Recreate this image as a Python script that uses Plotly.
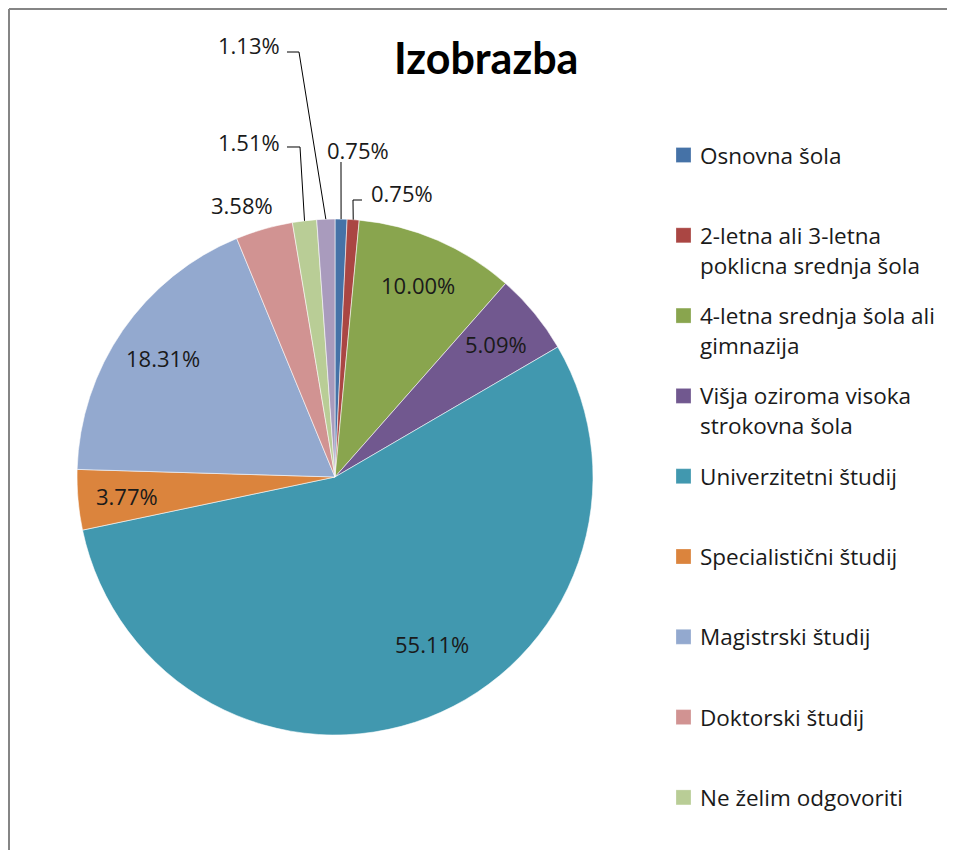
import math
import textwrap
import plotly.graph_objects as go

# ---------------- data ----------------
categories = [
    "Osnovna šola",
    "2-letna ali 3-letna poklicna srednja šola",
    "4-letna srednja šola ali gimnazija",
    "Višja oziroma visoka strokovna šola",
    "Univerzitetni študij",
    "Specialistični študij",
    "Magistrski študij",
    "Doktorski študij",
    "Ne želim odgovoriti",
    "Drugo",
]
percentages = [0.75, 0.75, 10.00, 5.09, 55.11, 3.77, 18.31, 3.58, 1.51, 1.13]
title_text = "Izobrazba"

# ---------------- style ----------------
colors = ["#4572A7", "#AA4643", "#89A54E", "#71588F", "#4198AF",
          "#DB843D", "#93A9CF", "#D19392", "#B9CD96", "#A99BBD"]
FONT = "Open Sans"
TEXT_COLOR = "#1a1a1a"
LABEL_SIZE = 22
LEGEND_SIZE = 22.5

PAGE_OFF = 8                       # browser body margin
W, H = 955 - 2 * PAGE_OFF, 858 - 2 * PAGE_OFF
CX, CY, R = 335, 477, 258          # pie centre / radius in screen pixels
INSIDE_R = 0.81                     # radial fraction for inside labels
LABEL_TWEAK = {"Univerzitetni študij": (0.75, -9)}   # (radius frac, angle shift)

# manually placed callouts for the thin slices (screen pixel positions)
CALLOUTS = {
    "Osnovna šola": dict(xy=(358, 150), elbow=[(341, 162)]),
    "2-letna ali 3-letna poklicna srednja šola": dict(xy=(402, 193), elbow=[(353, 200), (362, 200)]),
    "Doktorski študij": dict(xy=(242, 205), elbow=[]),
    "Ne želim odgovoriti": dict(xy=(249, 142), elbow=[(300, 147), (287, 147)]),
    "Drugo": dict(xy=(249, 45), elbow=[(299, 52), (287, 52)]),
}

LEG_X_BOX, LEG_BOX = 676, 15
LEG_X_TEXT = 698
LEG_Y0, LEG_STEP, LEG_LINE = 155, 80.3, 30
LEG_WRAP = 24


def px(x):
    return (x - PAGE_OFF) / W


def py(y):
    return 1 - (y - PAGE_OFF) / H


fig = go.Figure(go.Pie(
    labels=categories,
    values=percentages,
    sort=False,
    direction="clockwise",
    rotation=0,
    marker=dict(colors=colors, line=dict(color="rgba(255,255,255,0.7)", width=0.8)),
    textinfo="none",
    hoverinfo="label+percent",
    showlegend=False,
    domain=dict(x=[px(CX - R), px(CX + R)], y=[py(CY + R), py(CY - R)]),
))

annotations = []
shapes = []

total = sum(percentages)
cum = 0.0
for name, v in zip(categories, percentages):
    mid = (cum + v / 2) / total * 360.0
    cum += v
    label = f"{v:.2f}%"
    if name in CALLOUTS:
        c = CALLOUTS[name]
        ex = CX + R * math.sin(math.radians(mid))
        ey = CY - R * math.cos(math.radians(mid))
        if c["elbow"]:
            pts = [(ex, ey)] + c["elbow"]
            path = "M " + " L ".join(f"{px(a):.5f},{py(b):.5f}" for a, b in pts)
            shapes.append(dict(type="path", xref="paper", yref="paper", path=path,
                               line=dict(color="black", width=1)))
        annotations.append(dict(x=px(c["xy"][0]), y=py(c["xy"][1]), xref="paper", yref="paper",
                                text=label, showarrow=False, xanchor="center", yanchor="middle",
                                font=dict(family=FONT, size=LABEL_SIZE, color=TEXT_COLOR)))
    else:
        rf, da = LABEL_TWEAK.get(name, (INSIDE_R, 0))
        a = math.radians(mid + da)
        lx = CX + rf * R * math.sin(a)
        ly = CY - rf * R * math.cos(a)
        annotations.append(dict(x=px(lx), y=py(ly), xref="paper", yref="paper",
                                text=label, showarrow=False, xanchor="center", yanchor="middle",
                                font=dict(family=FONT, size=LABEL_SIZE, color=TEXT_COLOR)))

# legend (built by hand to reproduce the wide spacing)
for i, (name, col) in enumerate(zip(categories, colors)):
    yc = LEG_Y0 + i * LEG_STEP
    if yc > 858:
        continue
    shapes.append(dict(type="rect", xref="paper", yref="paper",
                       x0=px(LEG_X_BOX), x1=px(LEG_X_BOX + LEG_BOX),
                       y0=py(yc + LEG_BOX / 2), y1=py(yc - LEG_BOX / 2),
                       fillcolor=col, line=dict(color="rgba(255,255,255,0.5)", width=0.5)))
    for j, line in enumerate(textwrap.wrap(name, LEG_WRAP)):
        annotations.append(dict(x=px(LEG_X_TEXT), y=py(yc + j * LEG_LINE), xref="paper", yref="paper",
                                text=line, showarrow=False, xanchor="left", yanchor="middle",
                                font=dict(family=FONT, size=LEGEND_SIZE, color=TEXT_COLOR)))

# title
annotations.append(dict(x=px(486), y=py(58), xref="paper", yref="paper",
                        text=f"<b>{title_text}</b>", showarrow=False,
                        xanchor="center", yanchor="middle",
                        font=dict(family="Lato", size=43, color="black")))

# chart frame (top and left edges visible)
shapes.append(dict(type="line", xref="paper", yref="paper", x0=px(9), y0=py(9), x1=px(947), y1=py(9),
                   line=dict(color="#858585", width=2)))
shapes.append(dict(type="line", xref="paper", yref="paper", x0=px(9), y0=py(9), x1=px(9), y1=py(850),
                   line=dict(color="#858585", width=2)))

fig.update_layout(
    width=W, height=H,
    margin=dict(l=0, r=0, t=0, b=0),
    paper_bgcolor="white",
    plot_bgcolor="white",
    annotations=annotations,
    shapes=shapes,
    showlegend=False,
)

fig.write_html("out.html")
